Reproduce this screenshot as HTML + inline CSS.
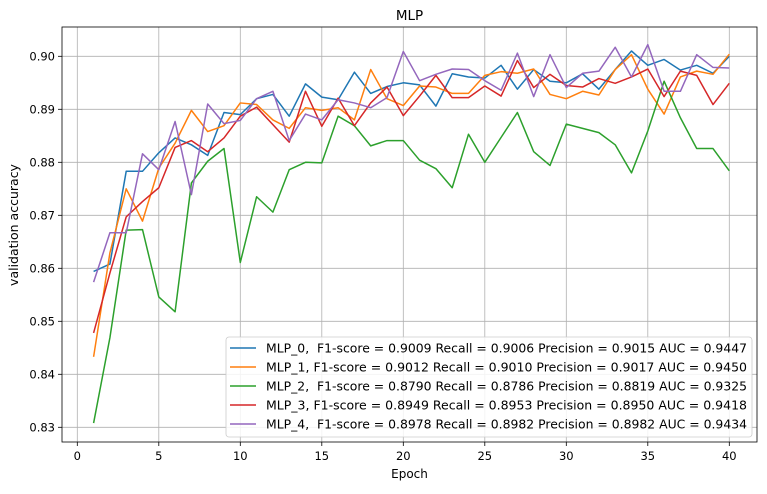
<!DOCTYPE html>
<html><head><meta charset="utf-8"><style>
body{margin:0;background:#fff;font-family:"Liberation Sans","DejaVu Sans",sans-serif;}
svg text{font-family:"DejaVu Sans","Liberation Sans",sans-serif;}
</style></head><body>
<svg id="chart" width="767" height="489" xmlns="http://www.w3.org/2000/svg"></svg>
<script>
const epochs = Array.from({length:40},(_,i)=>i+1);
const xTicks = [0,5,10,15,20,25,30,35,40];
const yTicks = [0.83,0.84,0.85,0.86,0.87,0.88,0.89,0.90];
const seriesNames = ["MLP_0","MLP_1","MLP_2","MLP_3","MLP_4"];
const legendLabels = [
"MLP_0,  F1-score = 0.9009 Recall = 0.9006 Precision = 0.9015 AUC = 0.9447",
"MLP_1, F1-score = 0.9012 Recall = 0.9010 Precision = 0.9017 AUC = 0.9450",
"MLP_2,  F1-score = 0.8790 Recall = 0.8786 Precision = 0.8819 AUC = 0.9325",
"MLP_3, F1-score = 0.8949 Recall = 0.8953 Precision = 0.8950 AUC = 0.9418",
"MLP_4,  F1-score = 0.8978 Recall = 0.8982 Precision = 0.8982 AUC = 0.9434"];
const colors = ["#1f77b4","#ff7f0e","#2ca02c","#d62728","#9467bd"];
const mlp0 = [0.8594,0.8608,0.8783,0.8783,0.8818,0.8846,0.8833,0.8813,0.8894,0.889,0.892,0.8928,0.8887,0.8948,0.8923,0.8918,0.897,0.893,0.8943,0.895,0.8946,0.8906,0.8967,0.8961,0.8959,0.8983,0.8938,0.8975,0.8953,0.895,0.8967,0.8938,0.8975,0.901,0.8983,0.8994,0.8974,0.8983,0.8968,0.90];
const mlp1 = [0.8433,0.8629,0.875,0.8689,0.8789,0.8836,0.8898,0.8858,0.8869,0.8912,0.8909,0.888,0.8864,0.8903,0.8898,0.8903,0.888,0.8975,0.892,0.8907,0.8944,0.8942,0.893,0.893,0.8964,0.8971,0.8968,0.8976,0.8928,0.892,0.8934,0.8927,0.8975,0.9003,0.8938,0.8891,0.8961,0.8972,0.8966,0.9004];
const mlp2 = [0.8308,0.8469,0.8672,0.8673,0.8546,0.8518,0.8761,0.8802,0.8826,0.8611,0.8735,0.8706,0.8786,0.88,0.8799,0.8887,0.8869,0.8831,0.8841,0.8841,0.8804,0.8788,0.8752,0.8853,0.88,0.8847,0.8894,0.882,0.8794,0.8872,0.8864,0.8856,0.8833,0.878,0.8859,0.8953,0.8884,0.8826,0.8826,0.8784];
const mlp3 = [0.8478,0.8591,0.8697,0.8726,0.8752,0.8828,0.8841,0.882,0.8846,0.8887,0.8904,0.8871,0.8838,0.8934,0.8868,0.8921,0.8869,0.8912,0.8942,0.8888,0.8925,0.8964,0.8922,0.8922,0.8944,0.8925,0.8992,0.8941,0.8966,0.8945,0.8942,0.8958,0.8949,0.8961,0.8976,0.8924,0.8972,0.8964,0.8909,0.8949];
const mlp4 = [0.8574,0.8667,0.8667,0.8816,0.8786,0.8877,0.8739,0.891,0.8873,0.8879,0.892,0.8934,0.8841,0.8891,0.888,0.8918,0.8912,0.8903,0.8922,0.9009,0.8954,0.8966,0.8976,0.8975,0.8954,0.8936,0.9006,0.8924,0.9003,0.8941,0.8968,0.8972,0.9017,0.8961,0.9022,0.8934,0.8934,0.9003,0.8979,0.8978];
const allSeries=[mlp0,mlp1,mlp2,mlp3,mlp4];

const NS="http://www.w3.org/2000/svg";
const svg=document.getElementById('chart');
const L=62,R=757,T=27,B=442;
const xs=v=>77.3+v*16.3;
const ys=v=>427.3-(v-0.83)*5300;
function mk(tag,attrs,parent){const e=document.createElementNS(NS,tag);for(const k in attrs)e.setAttribute(k,attrs[k]);(parent||svg).appendChild(e);return e;}

const grid=mk('g',{});


xTicks.forEach(t=>{
  const l=mk('line',{x1:xs(t),x2:xs(t),y1:T,y2:B,stroke:'#b0b0b0','stroke-width':0.8},grid);
  
  
  const tk=mk('line',{x1:xs(t),x2:xs(t),y1:B,y2:B+4,stroke:'#000','stroke-width':0.8});
  
  
  const tx=mk('text',{x:xs(t),y:B+18,'text-anchor':'middle','font-size':11.5});
  tx.textContent=t;
  
  
});
yTicks.forEach(t=>{
  const l=mk('line',{x1:L,x2:R,y1:ys(t),y2:ys(t),stroke:'#b0b0b0','stroke-width':0.8},grid);
  
  
  const tk=mk('line',{x1:L-4,x2:L,y1:ys(t),y2:ys(t),stroke:'#000','stroke-width':0.8});
  
  
  const tx=mk('text',{x:L-7,y:ys(t)+4,'text-anchor':'end','font-size':11.5});
  tx.textContent=t.toFixed(2);
  
  
});
allSeries.forEach((s,i)=>{
  const p=mk('polyline',{points:s.map((v,j)=>xs(epochs[j])+','+ys(v)).join(' '),fill:'none',stroke:colors[i],'stroke-width':1.5,'stroke-linejoin':'round'});
  
  
});
const frame=mk('rect',{x:L,y:T,width:R-L,height:B-T,fill:'none',stroke:'#000','stroke-width':0.8});



const lg=mk('g',{});


const lr=mk('rect',{x:226,y:337,width:526,height:100,rx:3,fill:'#fff','fill-opacity':0.85,stroke:'#ccc','stroke-width':0.8},lg);


legendLabels.forEach((lab,i)=>{
  const y=348+i*19;
  const ln=mk('line',{x1:230,x2:256,y1:y,y2:y,stroke:colors[i],'stroke-width':1.5},lg);
  
  
  const tx=mk('text',{x:266,y:y+4.5,'font-size':12.3,textLength:481,lengthAdjust:'spacingAndGlyphs'},lg);
  tx.setAttribute('style','white-space:pre');
  tx.textContent=lab;
  
  
});
const title=mk('text',{x:(L+R)/2,y:20,'text-anchor':'middle','font-size':13.5});
title.textContent='MLP';


const xl=mk('text',{x:(L+R)/2,y:478,'text-anchor':'middle','font-size':12});
xl.textContent='Epoch';


const yl=mk('text',{x:0,y:0,'text-anchor':'middle','font-size':12.5,transform:'translate(18,225) rotate(-90)'});
yl.textContent='validation accuracy';


</script>
</body></html>
